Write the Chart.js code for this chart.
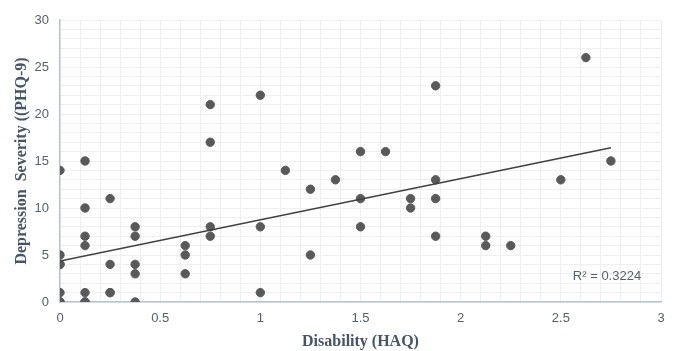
<!DOCTYPE html>
<html>
<head>
<meta charset="utf-8">
<script src="https://cdn.jsdelivr.net/npm/chart.js@4/dist/chart.umd.min.js"></script>
<style>
html,body{margin:0;padding:0;background:#fff;}
#wrap{width:675px;height:351px;position:relative;}
</style>
</head>
<body>
<div id="wrap"><canvas id="c" width="675" height="351"></canvas></div>
<script>
const haq = [0,0,0,0,0,0,0,
  0.125,0.125,0.125,0.125,0.125,0.125,0.125,
  0.25,0.25,0.25,0.25,
  0.375,0.375,0.375,0.375,0.375,
  0.625,0.625,0.625,
  0.75,0.75,0.75,0.75,
  1,1,1,
  1.125,
  1.25,1.25,
  1.375,
  1.5,1.5,1.5,
  1.625,
  1.75,1.75,
  1.875,1.875,1.875,1.875,
  2.125,2.125,
  2.25,
  2.5,
  2.625,
  2.75];
const phq = [14,5,4,4,1,0,0,
  15,10,7,6,1,0,0,
  11,4,1,1,
  8,7,4,3,0,
  6,5,3,
  21,17,8,7,
  22,8,1,
  14,
  12,5,
  13,
  16,11,8,
  16,
  11,10,
  23,13,11,7,
  7,6,
  6,
  13,
  26,
  15];
const trendX = [0, 2.75];
const trendY = [4.35, 16.4];
const rSquaredLabel = "R² = 0.3224";
const xTitle = "Disability (HAQ)";
const yTitle = "Depression  Severity ((PHQ-9)";

const points = haq.map((x,i)=>({x:x,y:phq[i]}));
const trend = trendX.map((x,i)=>({x:x,y:trendY[i]}));

const r2Plugin = {
  id:'r2',
  afterDatasetsDraw(chart){
    const ctx = chart.ctx;
    const xs = chart.scales.x, ys = chart.scales.y;
    ctx.save();
    ctx.font = '13px "Liberation Sans", Arial, sans-serif';
    ctx.fillStyle = '#56606e';
    ctx.textAlign = 'left';
    ctx.textBaseline = 'middle';
    ctx.fillText(rSquaredLabel, xs.getPixelForValue(2.56), ys.getPixelForValue(2.75));
    ctx.restore();
  }
};

const isMult = (v, m) => Math.abs(v/m - Math.round(v/m)) < 1e-6;

new Chart(document.getElementById('c'), {
  type:'scatter',
  data:{
    datasets:[
      {data:points, backgroundColor:'#595959', borderColor:'#595959', pointRadius:4.2, pointHoverRadius:4.2, order:2},
      {type:'line', data:trend, borderColor:'#404040', borderWidth:1.5, pointRadius:0, fill:false, order:1}
    ]
  },
  options:{
    responsive:false,
    animation:false,
    events:[],
    layout:{padding:{left:0,right:14,top:20,bottom:0}},
    plugins:{legend:{display:false}, tooltip:{enabled:false}},
    scales:{
      x:{
        type:'linear', min:0, max:3,
        afterFit(s){ s.height = 49; },
        ticks:{stepSize:0.1, autoSkip:false, maxRotation:0, color:'#56606e', padding:9,
          font:{family:'"Liberation Sans", Arial, sans-serif', size:13},
          callback:(v)=> isMult(v,0.5) ? String(Math.round(v*2)/2) : ''},
        grid:{color:'#efefef', drawTicks:false, lineWidth:1},
        border:{color:'#b4c3d6', width:1.5},
        title:{display:true, text:xTitle, color:'#44546a', padding:{top:4,bottom:0},
          font:{family:'"Liberation Serif", "Times New Roman", serif', size:16, weight:'bold'}}
      },
      y:{
        type:'linear', min:0, max:30,
        afterFit(s){ s.width = 60; },
        ticks:{stepSize:1, autoSkip:false, color:'#56606e', padding:11,
          font:{family:'"Liberation Sans", Arial, sans-serif', size:13},
          callback:(v)=> isMult(v,5) ? String(Math.round(v)) : ''},
        grid:{color:'#efefef', drawTicks:false, lineWidth:1},
        border:{color:'#b4c3d6', width:1.5},
        title:{display:true, text:yTitle, color:'#44546a', padding:{top:12,bottom:0},
          font:{family:'"Liberation Serif", "Times New Roman", serif', size:16, weight:'bold'}}
      }
    }
  },
  plugins:[r2Plugin]
});
</script>
</body>
</html>
